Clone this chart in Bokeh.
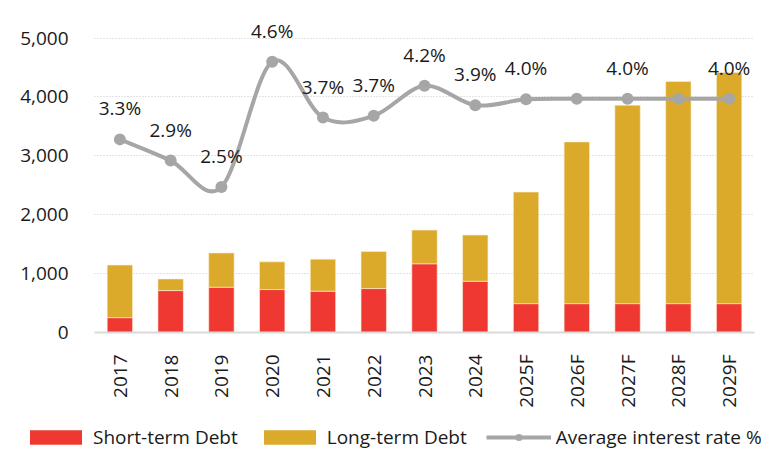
from bokeh.plotting import figure
from bokeh.models import (ColumnDataSource, Range1d, FixedTicker, NumeralTickFormatter,
                          Legend, LegendItem)
from bokeh.core.properties import value
from bokeh.embed import file_html
from bokeh.resources import INLINE
import math

categories = ["2017", "2018", "2019", "2020", "2021", "2022", "2023", "2024",
              "2025F", "2026F", "2027F", "2028F", "2029F"]
short_term = [252, 712, 769, 729, 702, 746, 1167, 870, 490, 490, 490, 490, 490]
total_debt = [1145, 909, 1352, 1200, 1246, 1375, 1739, 1655, 2385, 3237, 3860, 4264, 4416]
long_term = [t - s for t, s in zip(total_debt, short_term)]
avg_rate = [3.28, 2.92, 2.47, 4.60, 3.65, 3.68, 4.19, 3.86, 3.96, 3.97, 3.97, 3.97, 3.97]
rate_labels = ["3.3%", "2.9%", "2.5%", "4.6%", "3.7%", "3.7%", "4.2%", "3.9%", "4.0%",
               "", "4.0%", "", "4.0%"]
series_names = ["Short-term Debt", "Long-term Debt", "Average interest rate %"]
y_ticks = [0, 1000, 2000, 3000, 4000, 5000]

RED = "#EE3831"
GOLD = "#DBAA2B"
GRAY = "#A6A6A6"
FONT = "Open Sans"
FS = "19px"
TXT = "#1a1a1a"

xs = list(range(len(categories)))
Y_MAX = 5350

p = figure(width=761, height=410, output_backend="svg", toolbar_location=None,
           x_range=Range1d(-0.5, len(categories) - 0.5), y_range=Range1d(0, Y_MAX),
           min_border_left=94, min_border_right=7, min_border_top=17, min_border_bottom=75)
p.extra_y_ranges = {"rate": Range1d(0, Y_MAX / 1000)}
p.outline_line_color = None

src = ColumnDataSource(dict(x=xs, short=short_term, long=long_term,
                            rate=avg_rate, lab=rate_labels))

p.vbar_stack(["short", "long"], x="x", width=0.5, color=[RED, GOLD],
             line_color="#FBEFD8", line_width=0.6, source=src)

# smoothed line via bezier segments through the data points
n = len(xs)
bx0, by0, bx1, by1, cx0, cy0, cx1, cy1 = [], [], [], [], [], [], [], []
for i in range(n - 1):
    i0, i3 = max(i - 1, 0), min(i + 2, n - 1)
    bx0.append(xs[i]); by0.append(avg_rate[i])
    bx1.append(xs[i + 1]); by1.append(avg_rate[i + 1])
    cx0.append(xs[i] + (xs[i + 1] - xs[i0]) / 6)
    cy0.append(avg_rate[i] + (avg_rate[i + 1] - avg_rate[i0]) / 6)
    cx1.append(xs[i + 1] - (xs[i3] - xs[i]) / 6)
    cy1.append(avg_rate[i + 1] - (avg_rate[i3] - avg_rate[i]) / 6)
p.bezier(x0=bx0, y0=by0, x1=bx1, y1=by1, cx0=cx0, cy0=cy0, cx1=cx1, cy1=cy1,
         line_color=GRAY, line_width=4, y_range_name="rate")
p.scatter("x", "rate", source=src, size=12, fill_color=GRAY, line_color=None,
          y_range_name="rate")
p.text("x", "rate", text="lab", source=src, y_range_name="rate",
       text_font=value(FONT), text_font_size=FS, text_color=TXT,
       text_align="center", text_baseline="alphabetic", y_offset=-31)

# axes
p.yaxis.ticker = FixedTicker(ticks=y_ticks)
p.yaxis.formatter = NumeralTickFormatter(format="0,0")
p.yaxis.axis_line_color = None
p.yaxis.major_tick_line_color = None
p.yaxis.minor_tick_line_color = None
p.yaxis.major_label_standoff = 20
p.yaxis.major_label_text_font = FONT
p.yaxis.major_label_text_font_size = FS
p.yaxis.major_label_text_color = TXT

p.xaxis.ticker = FixedTicker(ticks=xs)
p.xaxis.major_label_overrides = {i: c for i, c in zip(xs, categories)}
p.xaxis.major_label_orientation = math.pi / 2
p.xaxis.axis_line_color = "#D9D9D9"
p.xaxis.axis_line_width = 2
p.xaxis.major_tick_line_color = None
p.xaxis.minor_tick_line_color = None
p.xaxis.major_label_standoff = 16
p.xaxis.major_label_text_font = FONT
p.xaxis.major_label_text_font_size = FS
p.xaxis.major_label_text_color = TXT

p.xgrid.grid_line_color = None
p.ygrid.grid_line_color = "#C8C8C8"
p.ygrid.grid_line_dash = "1 2"
p.ygrid.grid_line_width = 1

# legend strip below the chart (separate root, so its frame spans the full width)
lg = figure(width=761, height=40, output_backend="svg", toolbar_location=None,
            x_range=Range1d(0, 1), y_range=Range1d(0, 1),
            x_axis_type=None, y_axis_type=None,
            min_border_left=0, min_border_right=0, min_border_top=0, min_border_bottom=0)
lg.outline_line_color = None
nan = float("nan")
r_short = lg.vbar(x=[nan], top=[nan], width=0.5, fill_color=RED, line_color=None)
r_long = lg.vbar(x=[nan], top=[nan], width=0.5, fill_color=GOLD, line_color=None)
r_line = lg.line(x=[nan], y=[nan], line_color=GRAY, line_width=4)
r_dot = lg.scatter(x=[nan], y=[nan], size=8, fill_color=GRAY, line_color=None)

legend = Legend(items=[
    LegendItem(label=series_names[0], renderers=[r_short]),
    LegendItem(label=series_names[1], renderers=[r_long]),
    LegendItem(label=series_names[2], renderers=[r_line, r_dot]),
], orientation="horizontal", location=(23, 0), glyph_width=65, glyph_height=18,
    label_text_font=FONT, label_text_font_size=FS, label_text_color=TXT,
    label_standoff=5, spacing=19, padding=0, margin=0, border_line_color=None,
    background_fill_alpha=0)
lg.add_layout(legend, "center")

open("out.html", "w").write(file_html([p, lg], INLINE))
